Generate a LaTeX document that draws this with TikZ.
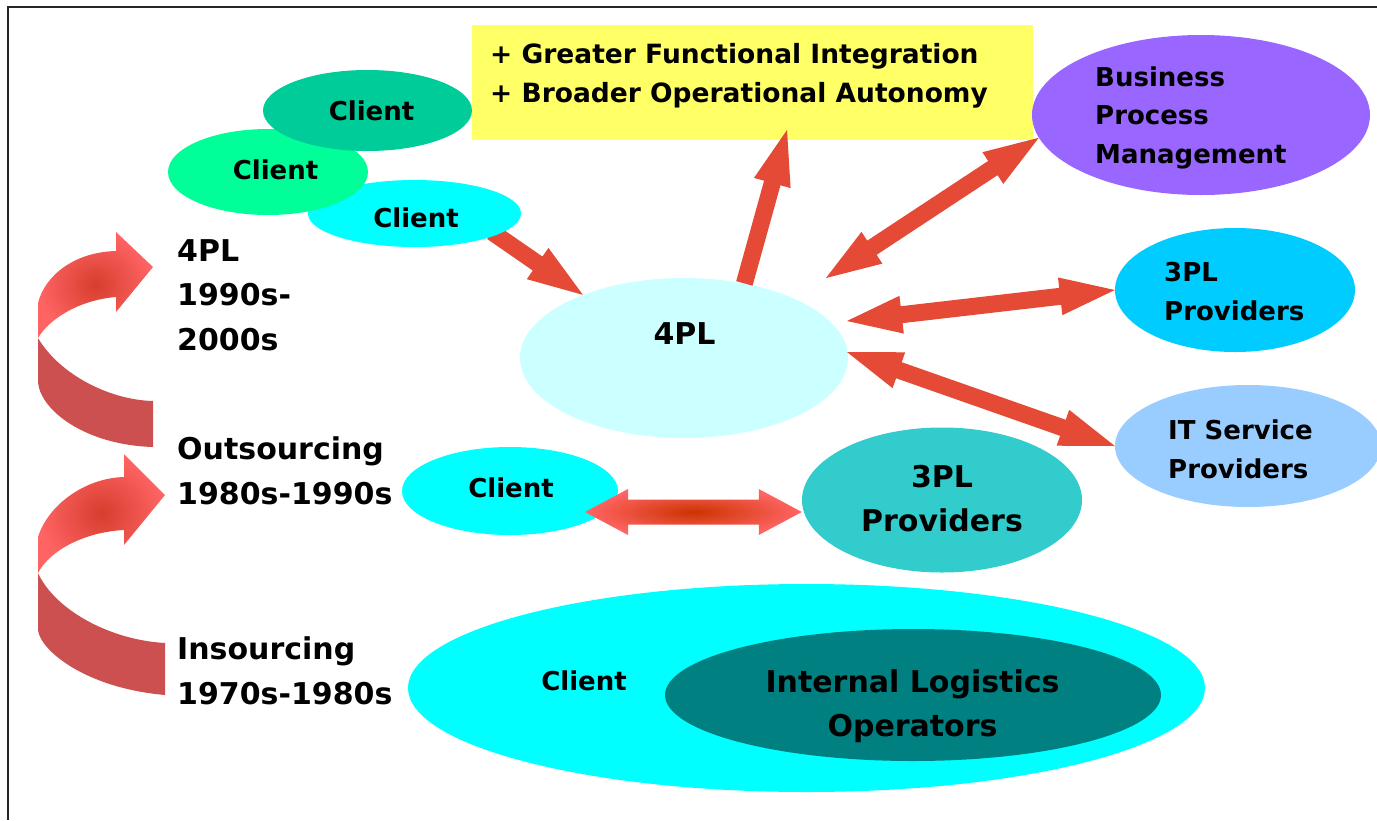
\documentclass[tikz,border=0pt]{standalone}
\usepackage{fontspec}
\setmainfont{DejaVu Sans}
\usetikzlibrary{calc,shapes.geometric}
\definecolor{cOne}{HTML}{00CC99}
\definecolor{cTwo}{HTML}{00FF99}
\definecolor{cCyan}{HTML}{00FFFF}
\definecolor{cYel}{HTML}{FFFF66}
\definecolor{cBpm}{HTML}{9966FF}
\definecolor{cTpr}{HTML}{00CCFF}
\definecolor{cIt}{HTML}{99CCFF}
\definecolor{cFpl}{HTML}{CCFFFF}
\definecolor{cTpm}{HTML}{33CCCC}
\definecolor{cIl}{HTML}{008080}
\definecolor{arrRed}{HTML}{E44A36}
\definecolor{arrDark}{HTML}{CC3300}
\definecolor{arrLight}{HTML}{FF6464}
\definecolor{bendDark}{HTML}{D63E2E}
\definecolor{bendBack}{HTML}{CD5050}
% single block arrow: style, from, to, half shaft, half head, head length
\newcommand\sarrow[6]{%
  \coordinate (bA) at (#2); \coordinate (bB) at (#3);
  \coordinate (bH) at ($(bB)!#6!(bA)$);
  \path[#1] ($(bA)!#4!90:(bB)$) -- ($(bH)!#4!90:(bB)$) -- ($(bH)!#5!90:(bB)$) -- (bB)
    -- ($(bH)!#5!-90:(bB)$) -- ($(bH)!#4!-90:(bB)$) -- ($(bA)!#4!-90:(bB)$) -- cycle;}
% double block arrow
\newcommand\darrow[6]{%
  \coordinate (bA) at (#2); \coordinate (bB) at (#3);
  \coordinate (bHa) at ($(bA)!#6!(bB)$);
  \coordinate (bHb) at ($(bB)!#6!(bA)$);
  \path[#1] (bA) -- ($(bHa)!#5!90:(bB)$) -- ($(bHa)!#4!90:(bB)$) -- ($(bHb)!#4!90:(bB)$)
    -- ($(bHb)!#5!90:(bB)$) -- (bB) -- ($(bHb)!#5!-90:(bB)$) -- ($(bHb)!#4!-90:(bB)$)
    -- ($(bHa)!#4!-90:(bB)$) -- ($(bHa)!#5!-90:(bB)$) -- cycle;}
\begin{document}
\begin{tikzpicture}[x=1pt,y=-1pt,
  oval/.style={ellipse, inner sep=0pt, draw=none},
  small/.style={font=\fontsize{26}{38.5}\selectfont\bfseries, inner sep=0pt},
  big/.style={font=\fontsize{30}{44.5}\selectfont\bfseries, inner sep=0pt},
  redblk/.style={fill=arrRed},
]
\useasboundingbox (0,0) rectangle (1377,820);
\fill[white] (0,0) rectangle (1377,820);
\draw[line width=1.5pt, black!85] (8,820) -- (8,7) -- (1377,7);

% curved arrows on the left
\path[inner color=bendDark, outer color=arrLight] (38,338) -- (38,303) .. controls (45,275) and (75,252) .. (116,251) -- (116,232) -- (153,267) -- (116,312) -- (116,297) .. controls (80,300) and (50,318) .. (38,338) -- cycle;
\fill[bendBack] (38,338) -- (38,382) .. controls (40,410) and (85,445) .. (153,447) -- (153,401) .. controls (110,400) and (60,375) .. (38,338) -- cycle;
\path[inner color=bendDark, outer color=arrLight] (38,573) -- (38,537) .. controls (48,505) and (85,478) .. (124,477) -- (124,454) -- (165,495) -- (124,545) -- (124,530) .. controls (85,532) and (50,550) .. (38,573) -- cycle;
\fill[bendBack] (38,573) -- (38,630) .. controls (40,650) and (85,688) .. (165,695) -- (165,643) .. controls (110,640) and (55,610) .. (38,573) -- cycle;

% shapes
\node[rectangle, fill=cYel, inner sep=0pt, minimum width=561pt, minimum height=115pt] (ye) at (752.5,82.5) {};
\node[oval, fill=cBpm, minimum width=338pt, minimum height=160pt] (bpm) at (1201,115) {};
\node[oval, fill=cTpr, minimum width=240pt, minimum height=124pt] (tpr) at (1235,290) {};
\node[oval, fill=cIt, minimum width=266pt, minimum height=122pt] (it) at (1248,446) {};
\node[oval, fill=cFpl, minimum width=328pt, minimum height=160pt] (fpl) at (684,358) {};
\node[oval, fill=cTpm, minimum width=280pt, minimum height=145pt] (tpm) at (942,500) {};
\node[oval, fill=cCyan, minimum width=216pt, minimum height=88pt] (oc) at (510,491) {};
\node[oval, fill=cCyan, minimum width=797pt, minimum height=208pt] (bc) at (806.5,688) {};
\node[oval, fill=cIl, minimum width=496pt, minimum height=132pt] (il) at (913,695) {};

\coordinate (c3tail) at (492,232);
\coordinate (yetip) at (787,130);
\coordinate (bpmL) at (826,278);
\coordinate (tprL) at (847,321);
\coordinate (itL) at (847,352);
\coordinate (ocL) at (585,512);

\sarrow{redblk}{c3tail}{fpl.148}{8.5pt}{19pt}{55pt}
\node[oval, fill=cCyan, minimum width=213pt, minimum height=67pt] (c3) at (414.5,213.5) {};
\node[oval, fill=cTwo, minimum width=200pt, minimum height=86pt] (c2) at (268,172) {};
\node[oval, fill=cOne, minimum width=209pt, minimum height=81pt] (c1) at (367.5,110.5) {};

\sarrow{redblk}{fpl.51}{yetip}{8.5pt}{19pt}{55pt}
\darrow{redblk}{bpmL}{bpm.188}{8.5pt}{19pt}{55pt}
\darrow{redblk}{tprL}{tpr.west}{8.5pt}{19pt}{55pt}
\darrow{redblk}{itL}{it.west}{8.5pt}{19pt}{55pt}
\darrow{inner color=arrDark, outer color=arrLight}{ocL}{ocL -| tpm.west}{12.5pt}{23pt}{43pt}

% texts
\node[big, anchor=west, align=left] (lab4) at (177,295) {4PL\\1990s-\\2000s};
\node[big, anchor=west, align=left] (labO) at (177,471) {Outsourcing\\1980s-1990s};
\node[big, anchor=west, align=left] (labI) at (177,671) {Insourcing\\1970s-1980s};
\node[small, anchor=west, align=left, font=\fontsize{26.5}{38.5}\selectfont\bfseries] (tyel) at (490,76) {+ Greater Functional Integration\\+ Broader Operational Autonomy};
\node[small, anchor=west, align=left] (tbpm) at (1095,117.5) {Business\\Process\\Management};
\node[small, anchor=west, align=left] (ttpr) at (1164,291.5) {3PL\\Providers};
\node[small, anchor=west, align=left] (tit) at (1168,449.5) {IT Service\\Providers};
\node[big, align=center] (ttpm) at (942,498.5) {3PL\\Providers};
\node[big, align=center] (til) at (912.5,706) {Internal Logistics\\Operators};
\node[big, anchor=base] (tfpl) at (684.5,344) {4PL};
\node[small, anchor=base] (tc1) at (371.5,120) {Client};
\node[small, anchor=base] (tc2) at (275.5,179) {Client};
\node[small, anchor=base] (tc3) at (416,227) {Client};
\node[small, anchor=base] (toc) at (511,497) {Client};
\node[small, anchor=base] (tbc) at (584,690) {Client};
\end{tikzpicture}
\end{document}
